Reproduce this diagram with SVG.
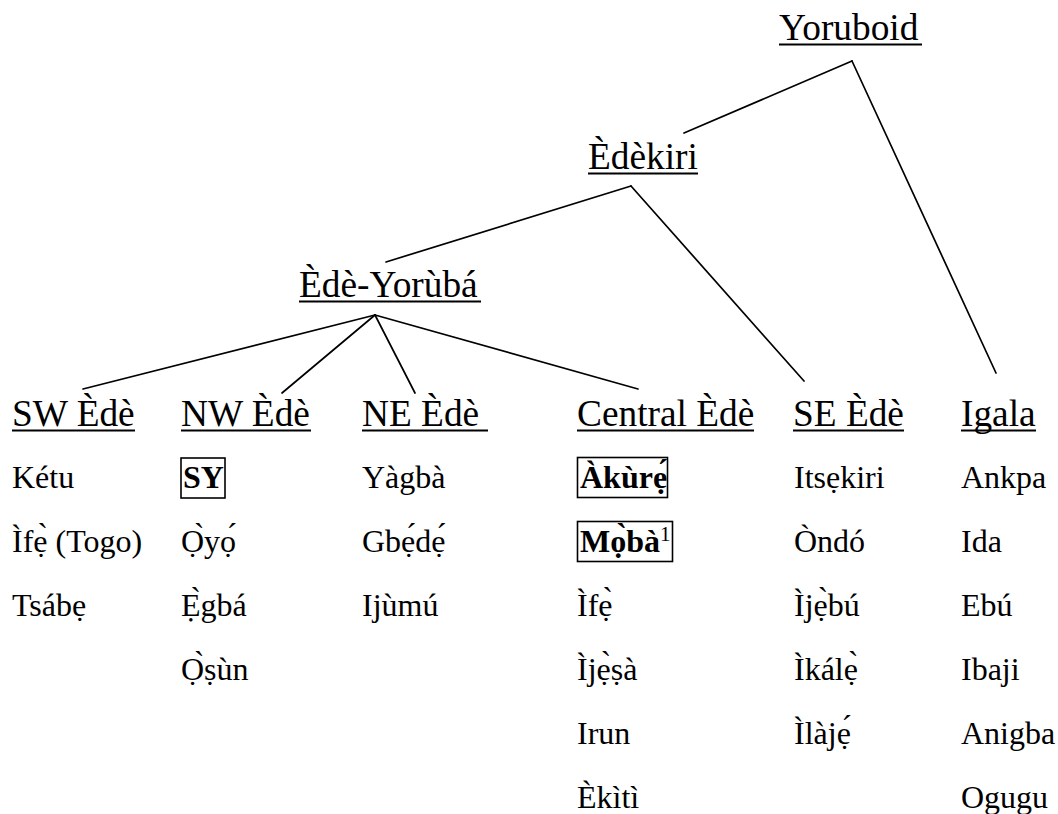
<svg xmlns="http://www.w3.org/2000/svg" width="1058" height="814" viewBox="0 0 1058 814">
<style>
text{font-family:"Liberation Serif","Times New Roman",serif;fill:#000}
.h{font-size:37.33px}
.i{font-size:32px}
.b{font-weight:bold}
.u{stroke:#000;stroke-width:2}
.box{fill:none;stroke:#000;stroke-width:1.6}
.c line{stroke:#000;stroke-width:1.7;stroke-linecap:round}
</style>
<rect width="1058" height="814" fill="#fff"/>
<g id="connectors" class="c">
<line x1="852" y1="61" x2="684" y2="133"/>
<line x1="852" y1="61" x2="996" y2="373"/>
<line x1="631" y1="186" x2="386" y2="262"/>
<line x1="631" y1="186" x2="804" y2="381"/>
<line x1="375" y1="315" x2="83" y2="389"/>
<line x1="375" y1="315" x2="282" y2="393"/>
<line x1="375" y1="315" x2="415" y2="393"/>
<line x1="375" y1="315" x2="638" y2="389"/>
</g>
<g id="yoruboid">
<text class="h" x="779" y="40">Yoruboid</text>
<line class="u" x1="779" y1="44.5" x2="922" y2="44.5"/>
</g>
<g id="edekiri">
<text class="h" x="588" y="169">Èdèkiri</text>
<line class="u" x1="588" y1="173.5" x2="698" y2="173.5"/>
</g>
<g id="ede-yoruba">
<text class="h" x="299" y="297">Èdè-Yorùbá</text>
<line class="u" x1="299" y1="301.5" x2="481" y2="301.5"/>
</g>
<g id="sw-ede">
<text class="h" x="12" y="426">SW Èdè</text>
<line class="u" x1="12" y1="430.5" x2="135" y2="430.5"/>
<text class="i" x="12" y="488">Kétu</text>
<text class="i" x="12" y="552">Ìfẹ̀ (Togo)</text>
<text class="i" x="12" y="616">Tsábẹ</text>
</g>
<g id="nw-ede">
<text class="h" x="181" y="426">NW Èdè</text>
<line class="u" x1="181" y1="430.5" x2="311" y2="430.5"/>
<rect class="box" x="181" y="458" width="44" height="40"/>
<text class="i b" x="183" y="488">SY</text>
<text class="i" x="181" y="552">Ọ̀yọ́</text>
<text class="i" x="181" y="616">Ẹ̀gbá</text>
<text class="i" x="181" y="680">Ọ̀ṣùn</text>
</g>
<g id="ne-ede">
<text class="h" x="362" y="426">NE Èdè </text>
<line class="u" x1="362" y1="430.5" x2="488" y2="430.5"/>
<text class="i" x="362" y="488">Yàgbà</text>
<text class="i" x="362" y="552">Gbẹ́dẹ́</text>
<text class="i" x="362" y="616">Ijùmú</text>
</g>
<g id="central-ede">
<text class="h" x="577" y="426">Central Èdè</text>
<line class="u" x1="577" y1="430.5" x2="754" y2="430.5"/>
<rect class="box" x="577.5" y="457.5" width="90" height="40"/>
<text class="i b" x="580" y="488">Àkùrẹ́</text>
<rect class="box" x="577.5" y="521.5" width="95" height="40"/>
<text class="i b" x="580" y="552">Mọ̀bà</text>
<text x="660" y="541" style="font-size:21px">1</text>
<text class="i" x="577" y="616">Ìfẹ̀</text>
<text class="i" x="577" y="680">Ìjẹ̀ṣà</text>
<text class="i" x="577" y="744">Irun</text>
<text class="i" x="577" y="808">Èkìtì</text>
</g>
<g id="se-ede">
<text class="h" x="793" y="426">SE Èdè</text>
<line class="u" x1="793" y1="430.5" x2="904" y2="430.5"/>
<text class="i" x="794" y="488">Itsẹkiri</text>
<text class="i" x="794" y="552">Òndó</text>
<text class="i" x="794" y="616">Ìjẹ̀bú</text>
<text class="i" x="794" y="680">Ìkálẹ̀</text>
<text class="i" x="794" y="744">Ìlàjẹ́</text>
</g>
<g id="igala">
<text class="h" x="961" y="426">Igala</text>
<line class="u" x1="961" y1="430.5" x2="1036" y2="430.5"/>
<text class="i" x="961" y="488">Ankpa</text>
<text class="i" x="961" y="552">Ida</text>
<text class="i" x="961" y="616">Ebú</text>
<text class="i" x="961" y="680">Ibaji</text>
<text class="i" x="961" y="744">Anigba</text>
<text class="i" x="961" y="808">Ogugu</text>
</g>
</svg>
